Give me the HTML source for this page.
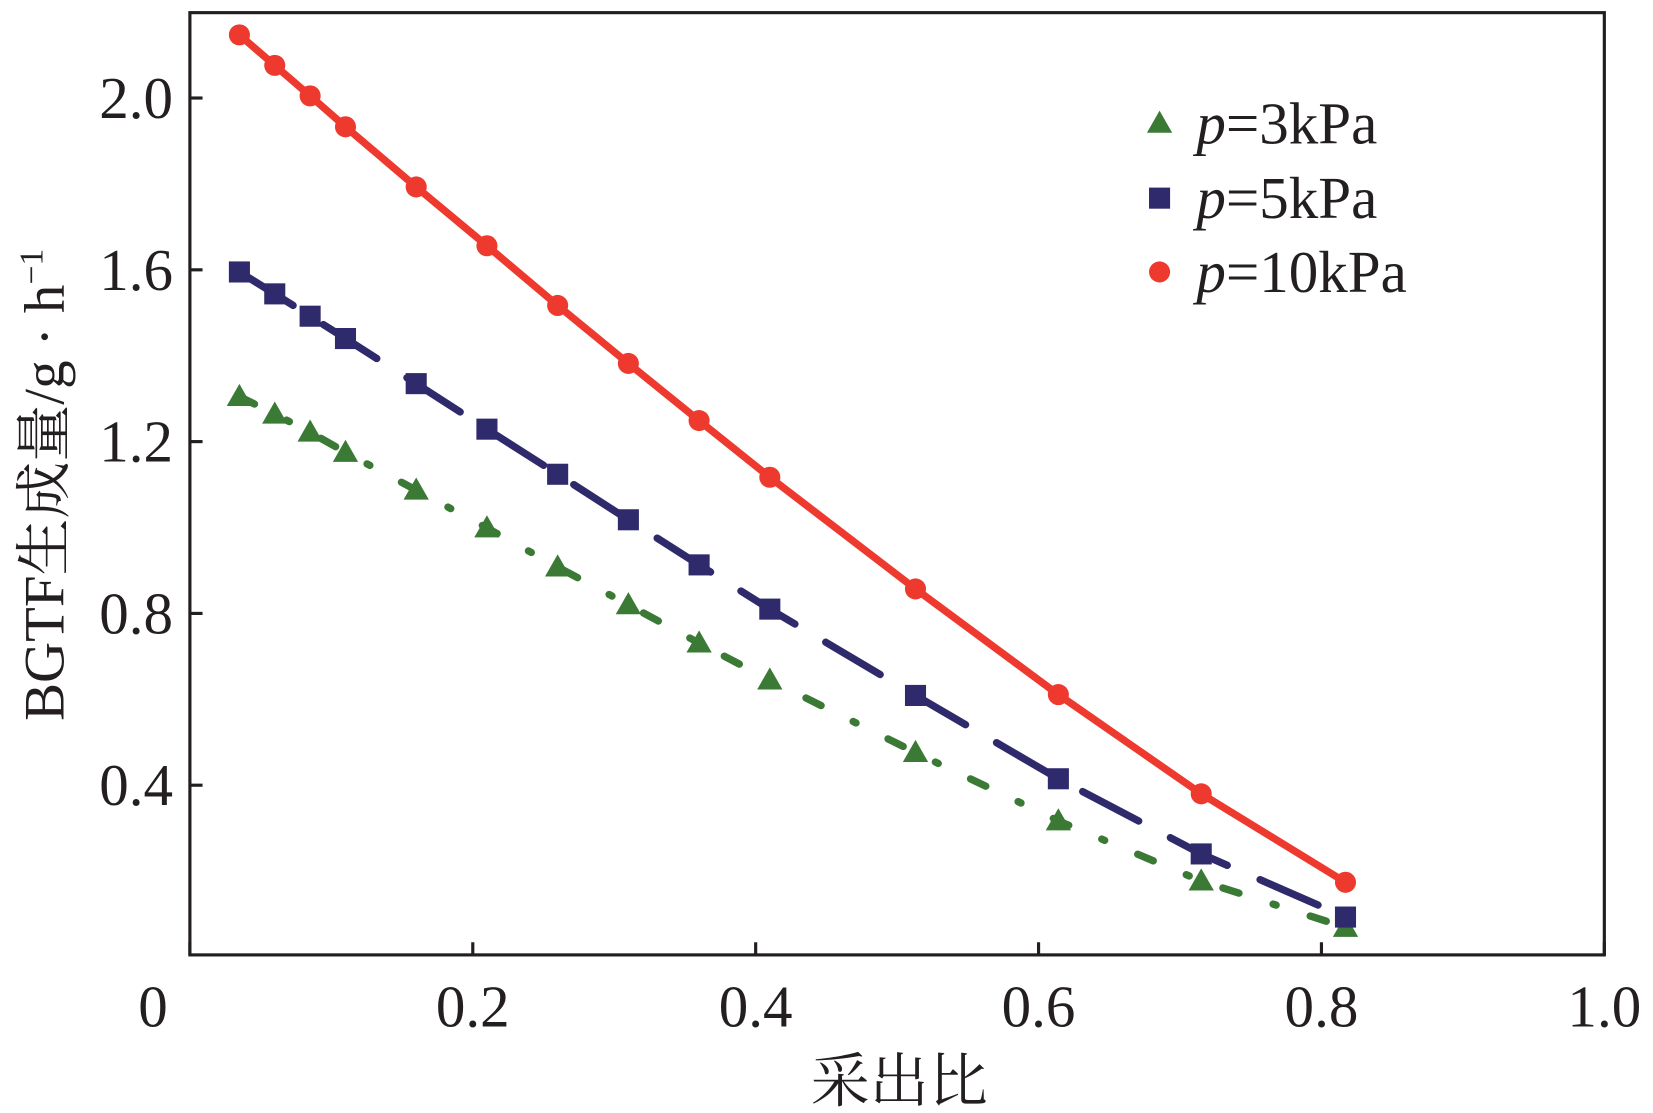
<!DOCTYPE html>
<html><head><meta charset="utf-8">
<style>
html,body{margin:0;padding:0;background:#fff;}
svg{display:block;}
text{font-family:"Liberation Serif","Noto Serif CJK SC",serif;fill:#231f20;}
</style></head>
<body>
<svg id="chart" width="1653" height="1113" viewBox="0 0 1568 1056" xmlns="http://www.w3.org/2000/svg"></svg>
<script>
const xValues=[0.035,0.06,0.085,0.11,0.16,0.21,0.26,0.31,0.36,0.41,0.513,0.614,0.715,0.817];
const p10Values=[2.147,2.076,2.005,1.933,1.793,1.656,1.517,1.382,1.249,1.117,0.857,0.611,0.380,0.174];
const p5Values=[1.595,1.544,1.492,1.440,1.335,1.229,1.124,1.018,0.913,0.810,0.609,0.415,0.240,0.093];
const p3Values=[1.305,1.264,1.222,1.175,1.087,0.999,0.908,0.820,0.731,0.645,0.476,0.317,0.177,0.069];
const xTicks=[0,0.2,0.4,0.6,0.8,1.0];
const xTickLabels=["0","0.2","0.4","0.6","0.8","1.0"];
const yTicks=[0.4,0.8,1.2,1.6,2.0];
const yTickLabels=["0.4","0.8","1.2","1.6","2.0"];

const L=180,R=1522,T=12,B=906;
const sx=v=>L+v*(R-L);
const sy=v=>908-v*407.5;
const svg=document.getElementById('chart');
const NS="http://www.w3.org/2000/svg";
function mk(tag,attrs,parent){const e=document.createElementNS(NS,tag);for(const k in attrs)e.setAttribute(k,attrs[k]);(parent||svg).appendChild(e);return e;}

const frame=mk('rect',{x:L,y:T,width:R-L,height:B-T,fill:'none',stroke:'#231f20','stroke-width':3});



xTicks.forEach((t,i)=>{
  const tk=mk('line',{x1:sx(t),x2:sx(t),y1:B,y2:B-12,stroke:'#231f20','stroke-width':3});
  
  
  const tx=mk('text',{x:i===0?145:sx(t),y:974,'font-size':56,'text-anchor':'middle'});
  tx.textContent=xTickLabels[i];
  
  
});
yTicks.forEach((t,i)=>{
  const tk=mk('line',{x1:L,x2:L+12,y1:sy(t),y2:sy(t),stroke:'#231f20','stroke-width':3});
  
  
  const tx=mk('text',{x:164,y:sy(t)+19,'font-size':56,'text-anchor':'end'});
  tx.textContent=yTickLabels[i];
  
  
});

const xt=mk('text',{x:853,y:1045,'font-size':56,'text-anchor':'middle'});
xt.textContent='采出比';



const yt=mk('text',{transform:'translate(60,460) rotate(-90)','font-size':54,'text-anchor':'middle'});
yt.innerHTML='BGTF生成量/g · h<tspan dy="-20" font-size="32">−1</tspan>';



function series(vals,color,dash,marker,name){
  const g=mk('g',{});
  
  
  const pts=xValues.map((x,i)=>sx(x)+','+sy(vals[i])).join(' ');
  const pl=mk('polyline',{points:pts,fill:'none',stroke:color,'stroke-width':7,'stroke-dasharray':dash,'stroke-linecap':'round'},g);
  
  
  xValues.forEach((x,i)=>{
    const m=drawMarker(marker,sx(x),sy(vals[i]),color,g);
    
    
  });
}
function drawMarker(type,cx,cy,color,g){
  if(type==='circle')return mk('circle',{cx:cx,cy:cy,r:10,fill:color},g);
  if(type==='square')return mk('rect',{x:cx-10,y:cy-10,width:20,height:20,fill:color},g);
  return mk('polygon',{points:`${cx},${cy-12} ${cx-12},${cy+9} ${cx+12},${cy+9}`,fill:color},g);
}
series(p3Values,'#3a7a35','16 34 3 34','tri','series-p3kpa');
series(p5Values,'#2e2a6b','60 34','square','series-p5kpa');
series(p10Values,'#ee3a2e','none','circle','series-p10kpa');

const legend=[['tri','#3a7a35','3kPa',117],['square','#2e2a6b','5kPa',188],['circle','#ee3a2e','10kPa',258]];
legend.forEach(l=>{
  const g=mk('g',{});
  
  
  drawMarker(l[0],1100,l[3],l[1],g);
  const t=mk('text',{x:1135,y:l[3]+19,'font-size':56},g);
  t.innerHTML='<tspan font-style="italic">p</tspan>='+l[2];
});
</script>
</body></html>
